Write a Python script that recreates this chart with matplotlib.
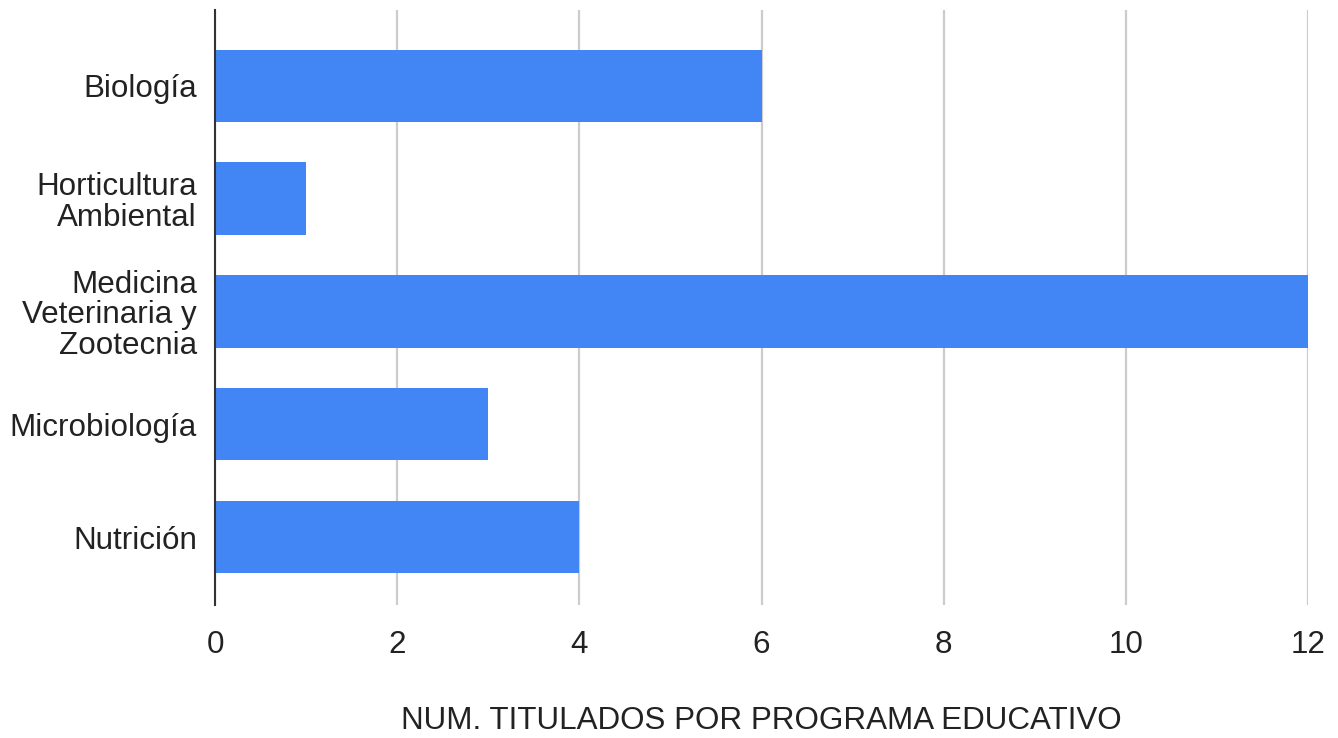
import matplotlib
matplotlib.use("Agg")
import matplotlib.pyplot as plt

plt.rcParams['font.family'] = ['Liberation Sans', 'DejaVu Sans']

categories = ["Biología", "Horticultura\nAmbiental", "Medicina\nVeterinaria y\nZootecnia", "Microbiología", "Nutrición"]
values = [6, 1, 12, 3, 4]
xticks = [0, 2, 4, 6, 8, 10, 12]
xlabel = "NUM. TITULADOS POR PROGRAMA EDUCATIVO"

fig = plt.figure(figsize=(13.38, 7.38), dpi=100)
ax = fig.add_axes([215/1338, (738-605)/738, (1308-215)/1338, (605-10)/738])

ypos = list(range(len(categories)))
ax.barh(ypos, values, height=0.64, color="#4285F4", zorder=3)
ax.set_ylim(4.6, -0.67)
ax.set_xlim(0, 12)
ax.set_xticks(xticks)
ax.set_xticklabels([str(t) for t in xticks], fontsize=22.6, color="#222222")
ax.set_yticks(ypos)
ax.set_yticklabels(categories, fontsize=22.6, color="#222222", linespacing=1.03)
ax.tick_params(axis='x', length=0, pad=18)
ax.tick_params(axis='y', length=0, pad=13)
ax.grid(axis='x', color="#cccccc", linewidth=1.6, zorder=0)
for s in ['top', 'right', 'bottom']:
    ax.spines[s].set_visible(False)
ax.spines['left'].set_color("#333333")
ax.spines['left'].set_linewidth(1.5)
ax.spines['left'].set_zorder(4)
ax.set_xlabel(xlabel, fontsize=22.6, color="#222222", labelpad=33)

fig.savefig("out.png", dpi=100, facecolor="white")
